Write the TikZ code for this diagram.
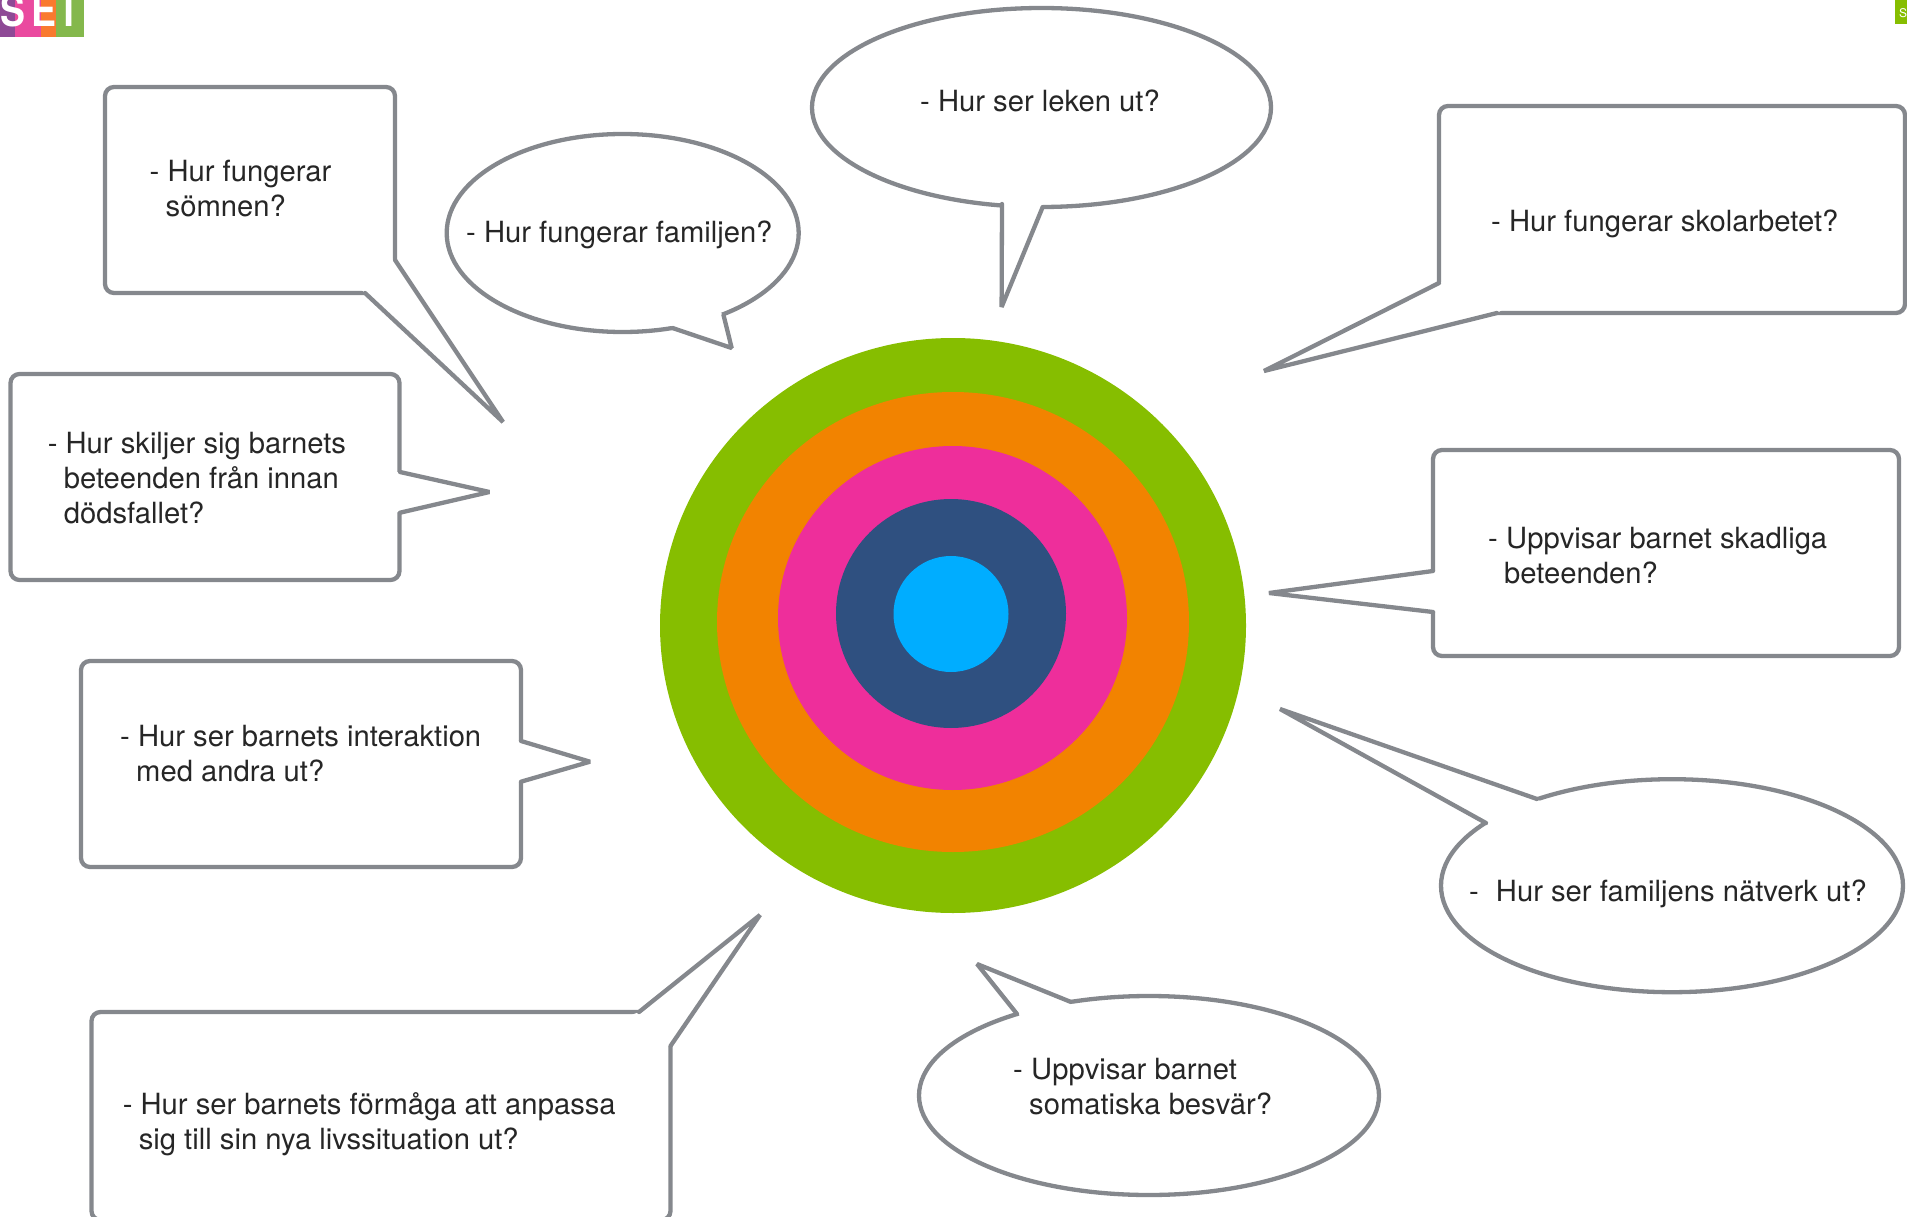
\documentclass[tikz,border=0pt]{standalone}
\usepackage{fontspec}
\setmainfont{TeX Gyre Heros}
\usetikzlibrary{shapes.geometric}

\definecolor{linegrey}{HTML}{85888D}
\definecolor{ringgreen}{HTML}{86BE00}
\definecolor{ringorange}{HTML}{F28300}
\definecolor{ringpink}{HTML}{EE2E9B}
\definecolor{ringnavy}{HTML}{2F5080}
\definecolor{ringblue}{HTML}{00ADFF}

\tikzset{
	ring/.style={shape=ellipse,inner sep=0pt,outer sep=0pt},
	oval/.style={shape=ellipse,draw=linegrey,line width=4.3pt,fill=white,inner sep=0pt,outer sep=0pt},
	box/.style={shape=rectangle,rounded corners=9pt,draw=linegrey,line width=4.3pt,fill=white,inner sep=0pt,outer sep=0pt},
	tail/.style={draw=linegrey,line width=4.3pt,line cap=round,line join=bevel},
	question/.style={anchor=base west,align=left,inner sep=0pt,text=black!85,font=\fontsize{29.2}{35}\selectfont},
	logoletter/.style={anchor=base,inner sep=0pt,text=white,transform shape,xscale=0.85,font=\fontsize{44}{44}\selectfont\bfseries}
}
\newcommand{\ind}{\hspace*{16pt}}

\begin{document}
\begin{tikzpicture}[x=1pt,y=-1pt]
	
	\useasboundingbox (0,0) rectangle (1907,1217);
	
	% logo corners
	\fill[fill={rgb,255:red,142;green,74;blue,150}] (0,0) rectangle (15,37);
	\fill[fill={rgb,255:red,234;green,74;blue,159}] (15,0) rectangle (41,37);
	\fill[fill={rgb,255:red,249;green,122;blue,47}] (41,0) rectangle (56,37);
	\fill[fill={rgb,255:red,132;green,184;blue,76}] (56,0) rectangle (84,37);
	\node[logoletter] (logoS) at (13,27) {S};
	\node[logoletter] (logoE) at (44,27) {E};
	\node[logoletter] (logoT) at (69,27) {T};
	\fill[ringgreen] (1895,0) rectangle (1907,24);
	\node[anchor=base west,inner sep=0pt,text=white,font=\fontsize{12}{12}\selectfont] (pageS) at (1899,18) {S};
	
	% rings
	\node[ring,fill=ringgreen,minimum width=586pt,minimum height=575pt] (r1) at (953,625.5) {};
	\node[ring,fill=ringorange,minimum width=472pt,minimum height=460pt] (r2) at (953,622) {};
	\node[ring,fill=ringpink,minimum width=349pt,minimum height=344pt] (r3) at (952.5,618) {};
	\node[ring,fill=ringnavy,minimum width=230pt,minimum height=229pt] (r4) at (951,613.5) {};
	\node[ring,fill=ringblue,minimum width=115pt,minimum height=116pt] (r5) at (951,614) {};
	
	% bubbles
	\node[box,minimum width=290pt,minimum height=206pt] (sovn) at (250,190) {};
	\node[box,minimum width=389pt,minimum height=206pt] (beteende) at (205,477) {};
	\node[box,minimum width=440pt,minimum height=206pt] (interaktion) at (301,764) {};
	\node[box,minimum width=579pt,minimum height=208pt] (formaga) at (381,1116) {};
	\node[box,minimum width=466pt,minimum height=207pt] (skola) at (1672,209.5) {};
	\node[box,minimum width=466pt,minimum height=206pt] (skadlig) at (1666,553) {};
	\node[oval,minimum width=352pt,minimum height=198pt] (familj) at (622.7,233) {};
	\node[oval,minimum width=459pt,minimum height=199pt] (lek) at (1041.5,107.5) {};
	\node[oval,minimum width=462pt,minimum height=213pt] (natverk) at (1672,885.7) {};
	\node[oval,minimum width=460pt,minimum height=199pt] (somatik) at (1149,1095.5) {};
	
	% tails
	\fill[white] (sovn.center) -- (395,260) coordinate (sovnA) -- (503,422) coordinate (sovnT) -- (365,293) coordinate (sovnB) -- cycle;
	\draw[tail] (sovnA) -- (sovnT) -- (sovnB);
	\fill[white] (beteende.center) -- (400,472) coordinate (beteendeA) -- (489.5,492) coordinate (beteendeT) -- (400,512.7) coordinate (beteendeB) -- cycle;
	\draw[tail] (beteendeA) -- (beteendeT) -- (beteendeB);
	\fill[white] (interaktion.center) -- (521,741) coordinate (interaktionA) -- (590,761.7) coordinate (interaktionT) -- (521,781.7) coordinate (interaktionB) -- cycle;
	\draw[tail] (interaktionA) -- (interaktionT) -- (interaktionB);
	\fill[white] (formaga.center) -- (639,1012) coordinate (formagaA) -- (760,915) coordinate (formagaT) -- (670.5,1046) coordinate (formagaB) -- cycle;
	\draw[tail] (formagaA) -- (formagaT) -- (formagaB);
	\fill[white] (skola.center) -- (1439,283) coordinate (skolaA) -- (1264,371) coordinate (skolaT) -- (1497,313) coordinate (skolaB) -- cycle;
	\draw[tail] (skolaA) -- (skolaT) -- (skolaB);
	\fill[white] (skadlig.center) -- (1433,571) coordinate (skadligA) -- (1269,593) coordinate (skadligT) -- (1433,612) coordinate (skadligB) -- cycle;
	\draw[tail] (skadligA) -- (skadligT) -- (skadligB);
	\fill[white] (familj.center) -- (723.5,315) coordinate (familjA) -- (731.7,348) coordinate (familjT) -- (672.5,328) coordinate (familjB) -- cycle;
	\draw[tail] (familjA) -- (familjT) -- (familjB);
	\fill[white] (lek.center) -- (1002,204) coordinate (lekA) -- (1001.6,307) coordinate (lekT) -- (1042.7,207) coordinate (lekB) -- cycle;
	\draw[tail] (lekA) -- (lekT) -- (lekB);
	\fill[white] (natverk.center) -- (1537,799) coordinate (natverkA) -- (1280,709) coordinate (natverkT) -- (1486,823) coordinate (natverkB) -- cycle;
	\draw[tail] (natverkA) -- (natverkT) -- (natverkB);
	\fill[white] (somatik.center) -- (1071,1002) coordinate (somatikA) -- (977,964) coordinate (somatikT) -- (1017,1014) coordinate (somatikB) -- cycle;
	\draw[tail] (somatikA) -- (somatikT) -- (somatikB);
	
	% texts
	\node[question] (t1) at (149.5,216.5) {- Hur fungerar\\\ind sömnen?};
	\node[question] (t2) at (47.6,523) {- Hur skiljer sig barnets\\\ind beteenden från innan\\\ind dödsfallet?};
	\node[question] (t3) at (120,781) {- Hur ser barnets interaktion\\\ind med andra ut?};
	\node[question] (t4) at (122.6,1149) {- Hur ser barnets förmåga att anpassa\\\ind sig till sin nya livssituation ut?};
	\node[question] (t5) at (466,243) {- Hur fungerar familjen?};
	\node[question] (t6) at (920,112) {- Hur ser leken ut?};
	\node[question] (t7) at (1491,232) {- Hur fungerar skolarbetet?};
	\node[question] (t8) at (1488,583) {- Uppvisar barnet skadliga\\\ind beteenden?};
	\node[question] (t9) at (1469,901.5) {-\hspace{17pt}Hur ser familjens nätverk ut?};
	\node[question] (t10) at (1013,1114) {- Uppvisar barnet\\\ind somatiska besvär?};
	
	\end{tikzpicture}
\end{document}
